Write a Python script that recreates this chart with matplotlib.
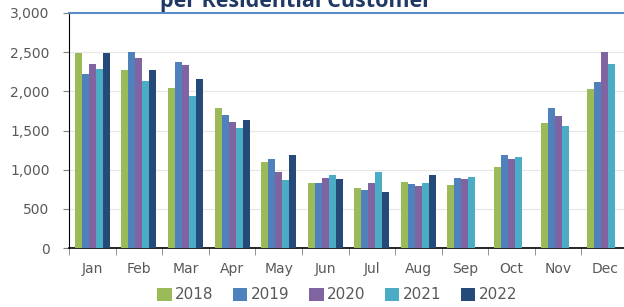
import numpy as np
import matplotlib.pyplot as plt

months = ['Jan', 'Feb', 'Mar', 'Apr', 'May', 'Jun', 'Jul', 'Aug', 'Sep', 'Oct', 'Nov', 'Dec']
years = ['2018', '2019', '2020', '2021', '2022']

# valores (None = sin dato)
v2018 = [2490, 2268, 2039, 1783, 1102, 826, 770, 847, 804, 1030, 1600, 2030]
v2019 = [2221, 2498, 2379, 1698, 1136, 826, 740, 813, 890, 1187, 1783, 2119]
v2020 = [2345, 2430, 2336, 1605, 966, 890, 834, 791, 877, 1132, 1681, 2498]
v2021 = [2285, 2136, 1940, 1528, 868, 928, 974, 834, 906, 1162, 1557, 2353]
v2022 = [2485, 2268, 2153, 1634, 1187, 877, 715, 936, None, None, None, None]

colores = ['#9BBB59', '#4F81BD', '#8064A2', '#4BACC6', '#254A78']
series = [v2018, v2019, v2020, v2021, v2022]

fig = plt.figure(figsize=(6.24, 3.07), dpi=100)
ax = fig.add_axes([69/624, 59/307, 559/624, 235/307])

x = np.arange(len(months))
w = 0.15
for i, (vals, col, lab) in enumerate(zip(series, colores, years)):
    vv = np.array([np.nan if v is None else v for v in vals], dtype=float)
    ax.bar(x + (i - 2) * w, vv, width=w, color=col, label=lab, zorder=3)

ax.set_xlim(-0.5, 11.5)
ax.set_ylim(0, 3000)
ax.set_yticks(np.arange(0, 3001, 500))
ax.set_yticklabels([f'{t:,}' for t in range(0, 3001, 500)])
ax.grid(axis='y', color='#E6E6E6', lw=0.8, zorder=0)

ax.set_xticks(x)
ax.set_xticklabels(months)
ax.set_xticks(np.arange(-0.5, 12, 1), minor=True)
ax.tick_params(axis='x', which='major', length=0, pad=10, labelsize=10, labelcolor='#595959')
ax.tick_params(axis='x', which='minor', length=5, color='#808080')
ax.tick_params(axis='y', length=4, color='#808080', labelsize=10, labelcolor='#595959', pad=10)

ax.spines['left'].set_color('black')
ax.spines['bottom'].set_color('black')
ax.spines['bottom'].set_linewidth(1.2)
ax.spines['top'].set_color('#5B8CC8')
ax.spines['top'].set_linewidth(1.5)
ax.spines['right'].set_visible(False)

# titulo recortado arriba, como en la imagen original
fig.text(296/624, 1 - 6.5/307, 'per Residential Customer', ha='center', va='baseline',
         fontsize=15.5, fontweight='bold', color='#1F3864', family='Open Sans')

fig.legend(loc='lower center', bbox_to_anchor=(337/624, -0.03), ncol=5, frameon=False,
           fontsize=11, handlelength=0.95, handleheight=0.95, handletextpad=0.2,
           columnspacing=1.3, labelcolor='#595959')

fig.savefig('out.png', dpi=100)
